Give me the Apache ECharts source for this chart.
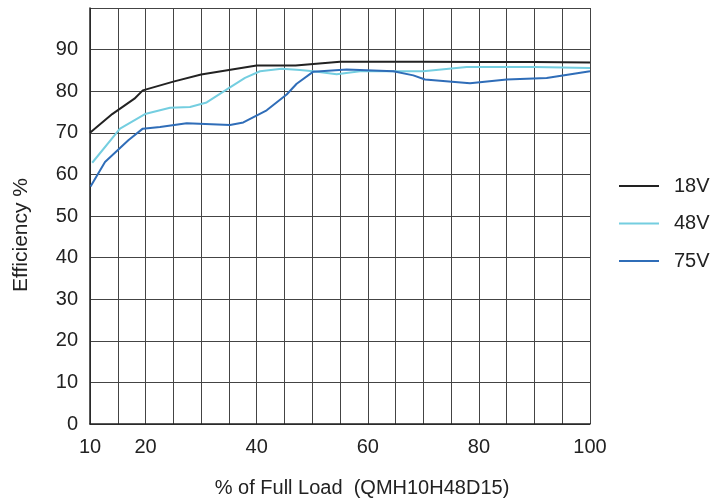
<!DOCTYPE html>
<html>
<head>
<meta charset="utf-8">
<script src="https://cdn.jsdelivr.net/npm/echarts@6/dist/echarts.min.js"></script>
<style>html,body{margin:0;padding:0;background:#fff}#c{width:726px;height:498px}</style>
</head>
<body>
<div id="c"></div>
<script>
var seriesNames = ['18V', '48V', '75V'];
var xTickLabels = [10, 20, 40, 60, 80, 100];
var yTickLabels = [0, 10, 20, 30, 40, 50, 60, 70, 80, 90];
var load18 = [10, 14, 18, 19.5, 25, 30, 35, 40, 47, 55, 60, 70, 80, 90, 100];
var eff18 = [70, 74.5, 78.2, 80.2, 82.3, 84, 85.1, 86.2, 86.2, 87.1, 87.1, 87.1, 87.0, 87.0, 86.9];
var load48 = [10.4, 15.4, 19.9, 24.4, 28, 31, 35.2, 37.9, 40.6, 44.5, 47.8, 50.2, 54.4, 58.6, 70, 77.8, 90, 100];
var eff48 = [62.8, 71, 74.5, 76, 76.2, 77.3, 80.9, 83.2, 84.8, 85.4, 85.1, 84.8, 84.1, 84.8, 84.8, 85.8, 85.8, 85.6];
var load75 = [10.1, 12.7, 16.9, 19.5, 22.6, 27.4, 35.2, 37.6, 41.8, 45.4, 47.2, 50.2, 56.2, 64.6, 68.2, 70.3, 78.4, 85, 92.2, 100];
var eff75 = [57.1, 63, 68.2, 71, 71.4, 72.3, 71.9, 72.5, 75.4, 79.2, 81.8, 84.7, 85.2, 84.8, 83.8, 82.8, 81.9, 82.8, 83.2, 84.8];
var colors = ['#222222', '#74CEE0', '#2F6DB8'];

function pairs(xs, ys) { return xs.map(function (x, i) { return [x, ys[i]]; }); }
var datas = [pairs(load18, eff18), pairs(load48, eff48), pairs(load75, eff75)];

var chart = echarts.init(document.getElementById('c'));
var font = 'Liberation Sans, Arial, sans-serif';
chart.setOption({
  animation: false,
  backgroundColor: '#fff',
  grid: { left: 90, right: 136, top: 8, bottom: 74, containLabel: false, outerBoundsMode: 'none' },
  legend: {
    orient: 'vertical',
    left: 619,
    top: 176,
    padding: 0,
    itemWidth: 40,
    itemHeight: 2,
    itemGap: 17.5,
    icon: 'rect',
    data: seriesNames,
    textStyle: { fontFamily: font, fontSize: 20, color: '#222', padding: [0, 0, 0, 10] }
  },
  xAxis: {
    type: 'value', min: 10, max: 100, interval: 5,
    name: '% of Full Load  (QMH10H48D15)',
    nameLocation: 'middle', nameGap: 54,
    nameTextStyle: { fontFamily: font, fontSize: 20, color: '#222', padding: [0, 0, 0, 44] },
    axisLine: { show: true, lineStyle: { color: '#222', width: 1.5 } },
    axisTick: { show: false },
    axisLabel: {
      margin: 13, fontFamily: font, fontSize: 20, color: '#222',
      formatter: function (v) { return xTickLabels.indexOf(v) >= 0 ? String(v) : ''; }
    },
    splitLine: { show: true, lineStyle: { color: '#444', width: 1 } }
  },
  yAxis: {
    type: 'value', min: 0, max: 100, interval: 10,
    name: 'Efficiency %',
    nameLocation: 'middle', nameGap: 58, nameRotate: 90,
    nameTextStyle: { fontFamily: font, fontSize: 21, color: '#222', padding: [0, 38, 0, 0] },
    axisLine: { show: true, lineStyle: { color: '#222', width: 1.5 } },
    axisTick: { show: false },
    axisLabel: {
      margin: 12, fontFamily: font, fontSize: 20, color: '#222',
      formatter: function (v) { return yTickLabels.indexOf(v) >= 0 ? String(v) : ''; }
    },
    splitLine: { show: true, lineStyle: { color: '#444', width: 1 } }
  },
  series: seriesNames.map(function (n, i) {
    return {
      name: n, type: 'line', data: datas[i], symbol: 'none', smooth: false,
      color: colors[i],
      lineStyle: { color: colors[i], width: 2 }
    };
  })
});
</script>
</body>
</html>
